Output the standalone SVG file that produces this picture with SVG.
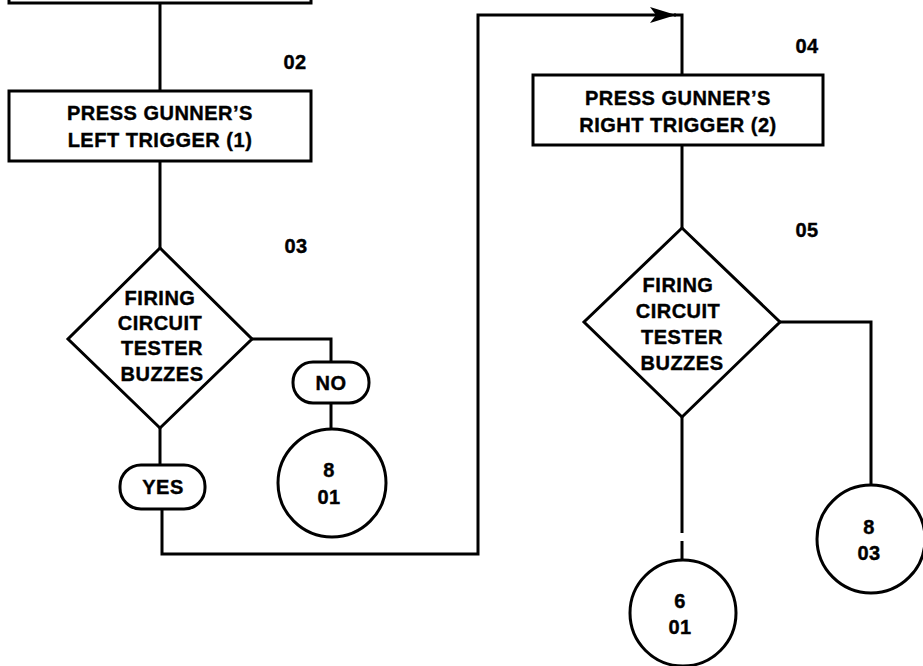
<svg xmlns="http://www.w3.org/2000/svg" width="923" height="666" viewBox="0 0 923 666">
<style>
.s{fill:#fff;stroke:#000;stroke-width:3}
.c{fill:none;stroke:#000;stroke-width:3}
text{font-family:"Liberation Sans",Arial,sans-serif;font-weight:bold;font-size:20px;letter-spacing:0.5px;text-anchor:middle;dominant-baseline:central;fill:#000;stroke:#000;stroke-width:0.4}
</style>
<defs>
<marker id="ah" markerWidth="28" markerHeight="18" refX="26" refY="9" orient="auto" markerUnits="userSpaceOnUse">
<path d="M0 1 L26 9 L0 17 L6 9 Z" fill="#000"/>
</marker>
</defs>
<rect width="923" height="666" fill="#fff"/>
<g id="connectors">
<path class="c" d="M160 3 V91"/>
<path class="c" d="M160 161 V248"/>
<path class="c" d="M252 339 H331 V362"/>
<path class="c" d="M331 403 V429"/>
<path class="c" d="M160 428 V465"/>
<path class="c" d="M162 509 V554 H478 V15 H676" marker-end="url(#ah)"/>
<path class="c" d="M674 15 H682 V75"/>
<path class="c" d="M682 145 V228"/>
<path class="c" d="M780 322 H871 V485"/>
<path class="c" d="M682 417 V533 M682 541 V560"/>
</g>
<g id="top-box">
<rect class="s" x="9" y="-60" width="302" height="63"/>
</g>
<g id="step02-label"><text x="295" y="62">02</text></g>
<g id="box-left-trigger">
<rect class="s" x="9" y="91" width="302" height="70"/>
<text x="160" y="113">PRESS GUNNER’S</text>
<text x="160" y="140">LEFT TRIGGER (1)</text>
</g>
<g id="step03-label"><text x="296" y="246">03</text></g>
<g id="diamond-1">
<polygon class="s" points="160,248 252,339 160,428 68,339"/>
<text x="160" y="298">FIRING</text>
<text x="160" y="323">CIRCUIT</text>
<text x="162" y="348">TESTER</text>
<text x="162" y="374">BUZZES</text>
</g>
<g id="no-1">
<rect class="s" x="293" y="362" width="76" height="41" rx="20" ry="20"/>
<text x="331" y="383">NO</text>
</g>
<g id="circle-8-01">
<circle class="s" cx="332" cy="483" r="54"/>
<text x="329" y="470">8</text>
<text x="329" y="497">01</text>
</g>
<g id="yes-1">
<rect class="s" x="120" y="465" width="85" height="44" rx="21" ry="21"/>
<text x="163" y="487">YES</text>
</g>
<g id="step04-label"><text x="807" y="46">04</text></g>
<g id="box-right-trigger">
<rect class="s" x="533" y="75" width="290" height="70"/>
<text x="678" y="98">PRESS GUNNER’S</text>
<text x="678" y="125">RIGHT TRIGGER (2)</text>
</g>
<g id="step05-label"><text x="807" y="230">05</text></g>
<g id="diamond-2">
<polygon class="s" points="682,228 780,322 682,417 584,322"/>
<text x="678" y="285">FIRING</text>
<text x="678" y="311">CIRCUIT</text>
<text x="682" y="337">TESTER</text>
<text x="682" y="363">BUZZES</text>
</g>
<g id="circle-8-03">
<circle class="s" cx="871" cy="539" r="54"/>
<text x="869" y="527">8</text>
<text x="869" y="553">03</text>
</g>
<g id="circle-6-01">
<circle class="s" cx="683" cy="613" r="53"/>
<text x="680" y="601">6</text>
<text x="680" y="627">01</text>
</g>
</svg>
